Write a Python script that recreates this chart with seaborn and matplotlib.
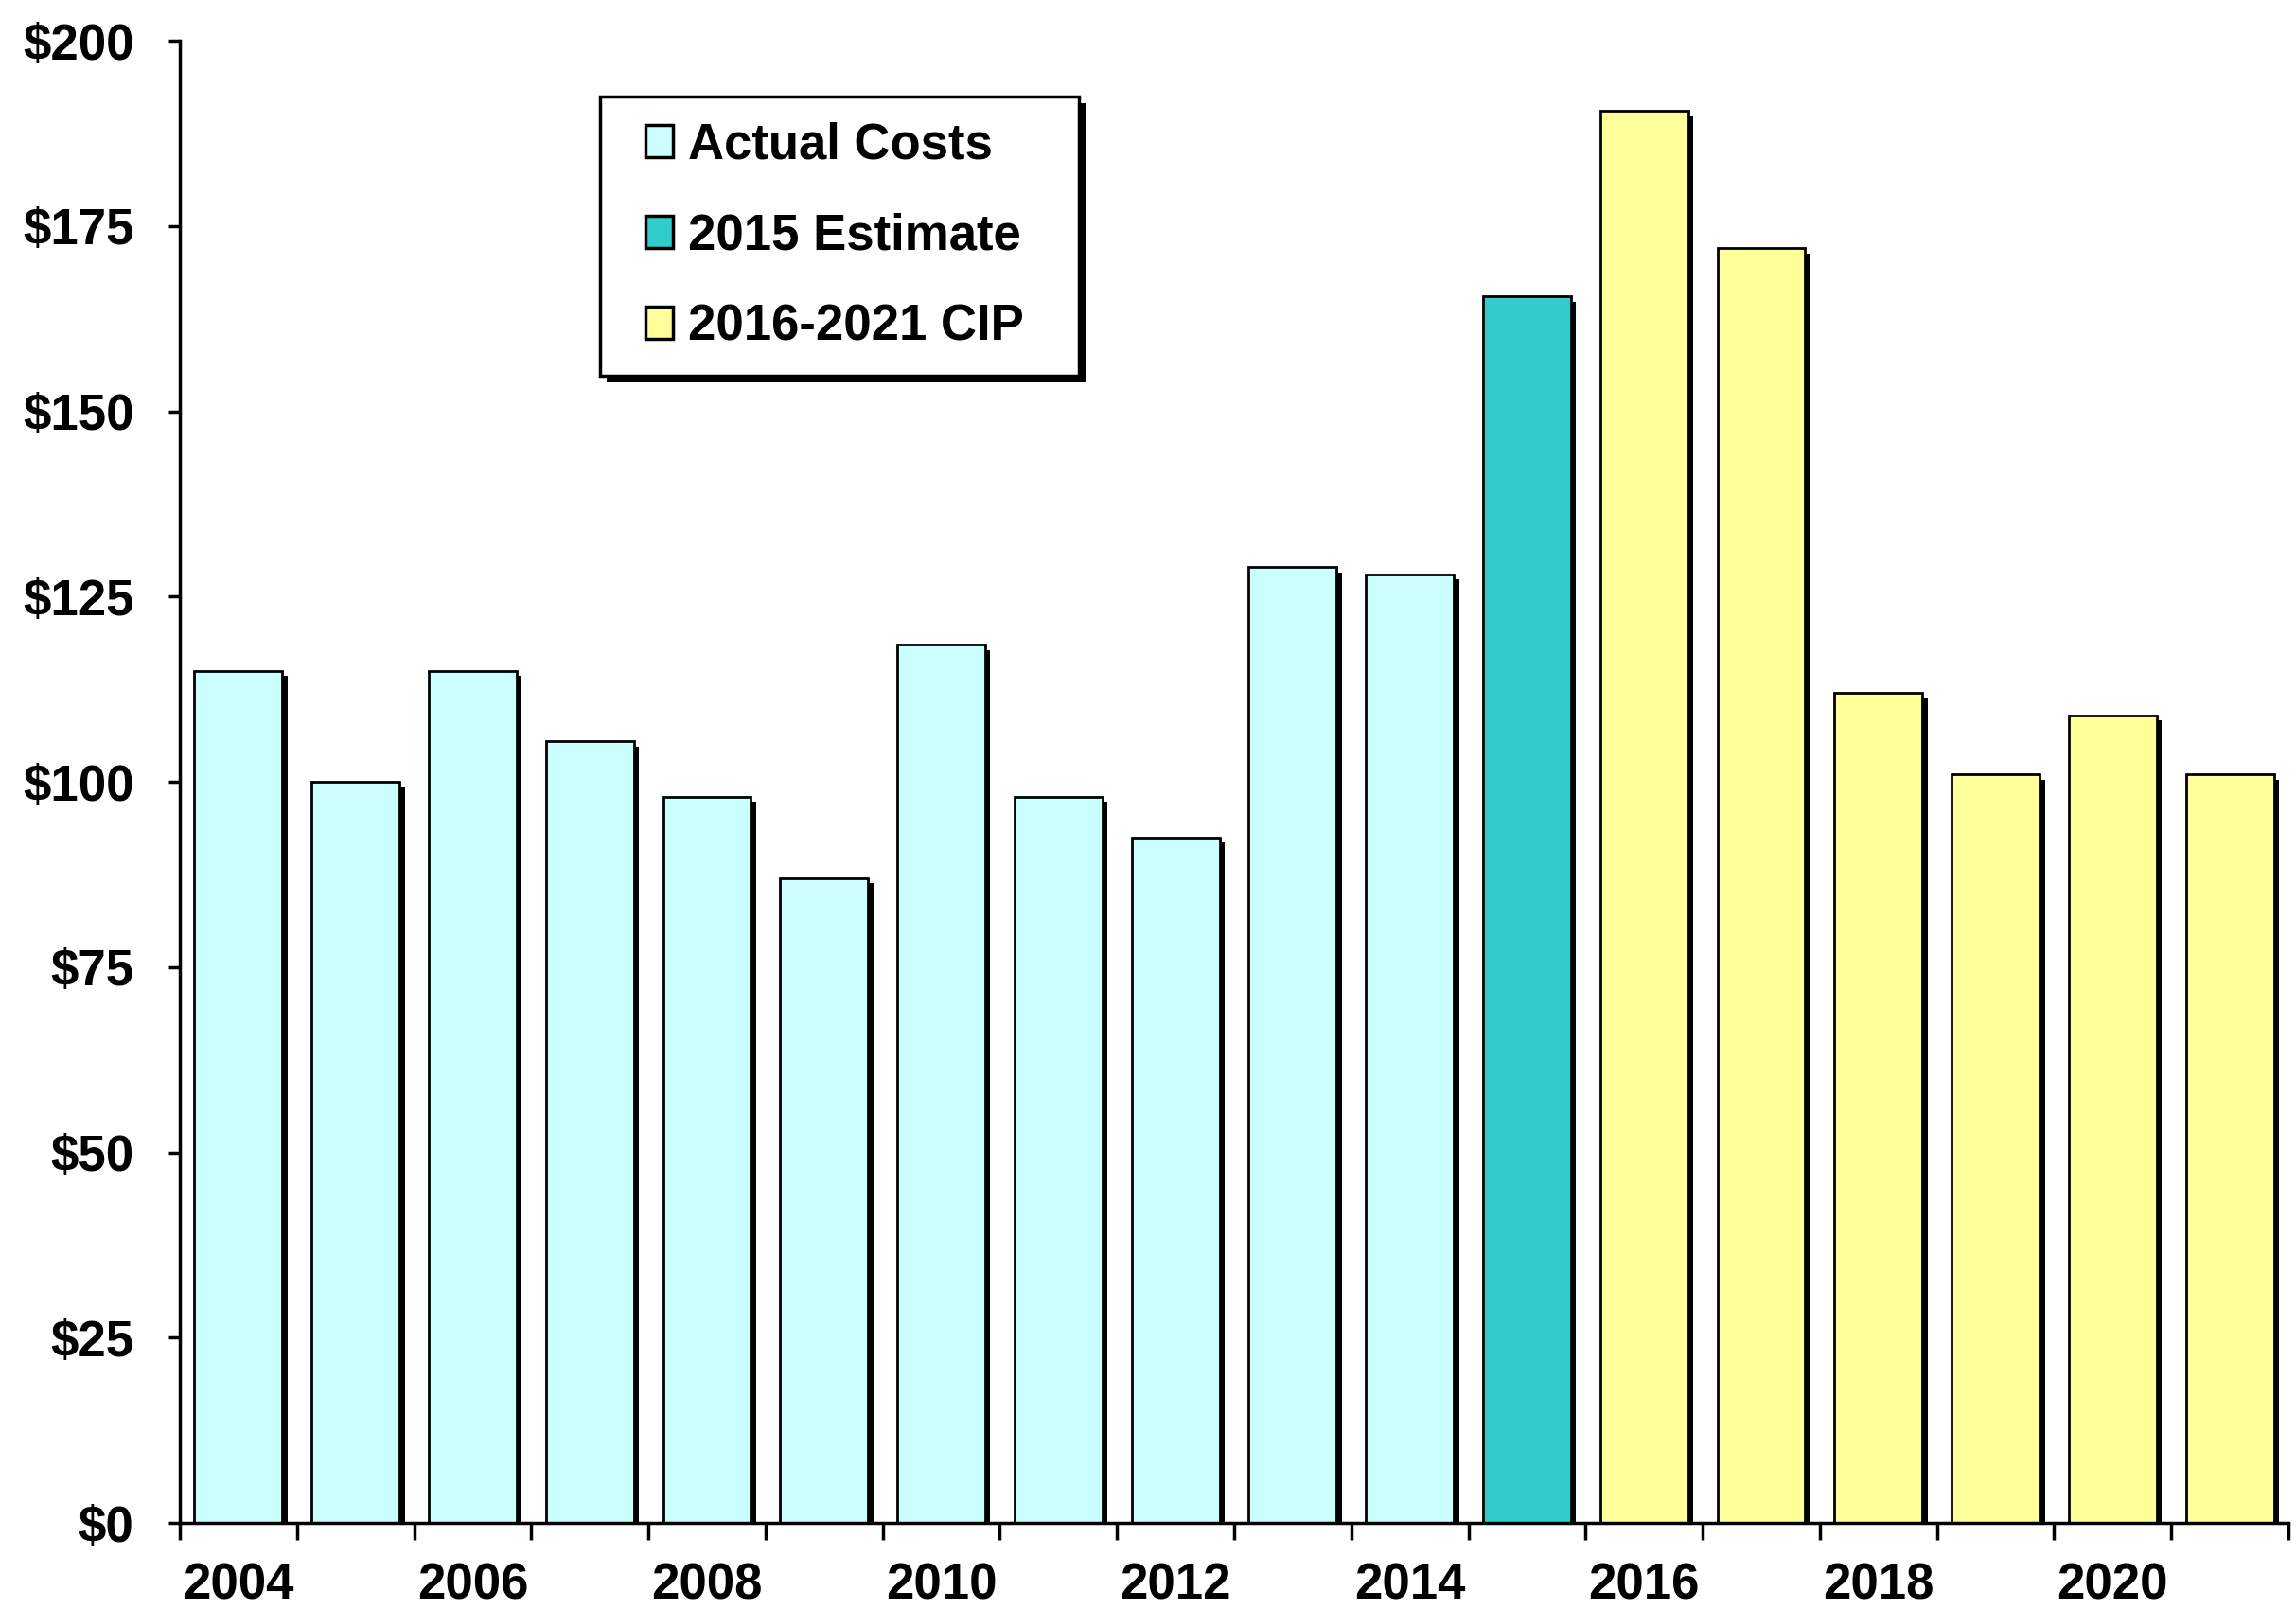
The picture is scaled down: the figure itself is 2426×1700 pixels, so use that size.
import numpy as np
import pandas as pd
import matplotlib
matplotlib.use('Agg')
import matplotlib.pyplot as plt
import matplotlib.patheffects as pe
from matplotlib.patches import Rectangle
from matplotlib.legend_handler import HandlerPatch
from matplotlib.ticker import FuncFormatter
import seaborn as sns

years = [str(y) for y in range(2004, 2022)]
costs = [115, 100, 115, 105.5, 98, 87, 118.5, 98, 92.5, 129, 128, 165.5, 190.5, 172, 112, 101, 109, 101]
groups = ['Actual Costs'] * 11 + ['2015 Estimate'] + ['2016-2021 CIP'] * 6
colors = {'Actual Costs': '#CCFFFF', '2015 Estimate': '#33CCCC', '2016-2021 CIP': '#FFFF99'}
y_ticks = list(range(0, 201, 25))
year_labels = years[::2]

df = pd.DataFrame({'year': years, 'cost': costs, 'group': groups})

sns.set_style('ticks')
plt.rcParams['font.family'] = ['Liberation Sans', 'DejaVu Sans']
plt.rcParams['font.weight'] = 'bold'
plt.rcParams['text.color'] = 'black'

fig = plt.figure(figsize=(24.26, 17), dpi=100)
ax = fig.add_axes([0.0783, 0.0535, 0.9184, 0.9212])

sns.barplot(data=df, x='year', y='cost', hue='group', palette=colors, order=years,
            hue_order=list(colors), dodge=False, width=0.75, saturation=1,
            edgecolor='black', linewidth=2, ax=ax)

# drop shadow on the right of each bar
for p in ax.patches:
    p.set_path_effects([pe.SimplePatchShadow(offset=(4, -4), shadow_rgbFace='black', alpha=1),
                        pe.Normal()])

ax.set_ylim(0, 200)
ax.set_xlim(-0.5, 17.5)
ax.set_yticks(y_ticks)
ax.yaxis.set_major_formatter(FuncFormatter(lambda v, p: f'${v:.0f}'))
ax.set_xticks(range(0, 18, 2))
ax.set_xticklabels(year_labels)
ax.set_xticks(np.arange(-0.5, 18, 1), minor=True)
ax.set_xlabel('')
ax.set_ylabel('')

ax.tick_params(axis='y', length=9, width=2.5, pad=26, labelsize=38, color='black', labelcolor='black')
ax.tick_params(axis='x', which='major', length=0, pad=30, labelsize=38, labelcolor='black')
ax.tick_params(axis='x', which='minor', length=13, width=2.5, direction='out', color='black')
for lab in ax.get_xticklabels() + ax.get_yticklabels():
    lab.set_fontweight('bold')

sns.despine(ax=ax)
for s in ['left', 'bottom']:
    ax.spines[s].set_linewidth(2.5)
    ax.spines[s].set_color('black')


# small square swatch, pushed to the right of its (wider) handle box
def swatch(legend, orig_handle, xdescent, ydescent, width, height, fontsize):
    w = 0.55 * fontsize
    return Rectangle((-xdescent + width - w, -ydescent), w, height)


handles, labels = ax.get_legend_handles_labels()
leg = ax.legend(handles, labels, loc='upper left', bbox_to_anchor=(0.2613, 0.74, 0.2086, 0.2),
                bbox_transform=fig.transFigure, mode='expand', frameon=True, fancybox=False,
                edgecolor='black', framealpha=1, prop={'size': 38, 'weight': 'bold'},
                handlelength=0.97, handleheight=0.62, handletextpad=0.3,
                labelspacing=0.87, borderpad=0.5, borderaxespad=0,
                handler_map={Rectangle: HandlerPatch(patch_func=swatch)})
leg.get_frame().set_linewidth(2.5)
leg.get_frame().set_path_effects([pe.SimplePatchShadow(offset=(5, -5), shadow_rgbFace='black', alpha=1),
                                  pe.Normal()])
for h in leg.legend_handles:
    h.set_path_effects([])
    h.set_edgecolor('black')
    h.set_linewidth(2.5)
for t in leg.get_texts():
    t.set_color('black')

fig.savefig('out.png', dpi=100)
